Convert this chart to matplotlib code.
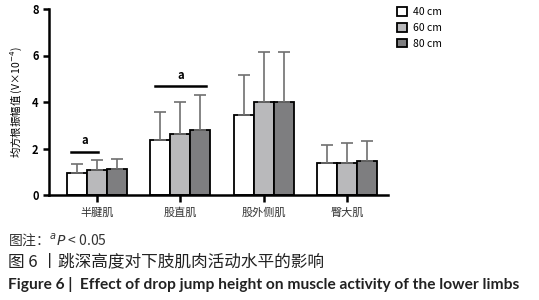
import numpy as np
import matplotlib
matplotlib.use('Agg')
import matplotlib.pyplot as plt

plt.rcParams['font.family'] = ['Noto Sans CJK SC', 'DejaVu Sans']

# Dati
muscoli = ['半腱肌', '股直肌', '股外侧肌', '臀大肌']
altezze = ['40 cm', '60 cm', '80 cm']
media_40 = [0.93, 2.37, 3.45, 1.37]
media_60 = [1.08, 2.63, 4.00, 1.39]
media_80 = [1.10, 2.80, 4.00, 1.47]
err_40 = [0.39, 1.19, 1.72, 0.80]
err_60 = [0.42, 1.37, 2.16, 0.86]
err_80 = [0.43, 1.52, 2.15, 0.84]
colori = ['white', '#b9b9bb', '#7e7e80']

fig = plt.figure(figsize=(5.39, 3.00), dpi=100)
ax = fig.add_axes([0.091, 0.35, 0.629, 0.62])

x = np.arange(len(muscoli))
w = 0.24
medie = [media_40, media_60, media_80]
errori = [err_40, err_60, err_80]
for i in range(3):
    ax.bar(x + (i - 1) * w, medie[i], w, yerr=[np.zeros(4), errori[i]],
           color=colori[i], edgecolor='black', linewidth=1.3, label=altezze[i],
           error_kw=dict(ecolor='#707070', elinewidth=1.2, capsize=4, capthick=1.2),
           zorder=2)

# linee di significatività
ax.plot([-0.31, 0.01], [1.87, 1.87], color='black', lw=1.8)
ax.text(-0.15, 2.05, 'a', ha='center', va='bottom', fontsize=8, fontweight='bold')
ax.plot([1 - 0.31, 1 + 0.31], [4.67, 4.67], color='black', lw=1.8)
ax.text(1, 4.85, 'a', ha='center', va='bottom', fontsize=8, fontweight='bold')

ax.set_xlim(-0.575, 3.49)
ax.set_ylim(0, 8)
ax.set_yticks([0, 2, 4, 6, 8])
ax.set_xticks(x)
ax.set_xticklabels(muscoli, fontsize=8, color='#333333')
ax.tick_params(axis='y', labelsize=8, width=1.8, length=4)
ax.tick_params(axis='x', width=1.8, length=5, pad=4)
for lab in ax.get_yticklabels():
    lab.set_fontweight('bold')
ax.spines['top'].set_visible(False)
ax.spines['right'].set_visible(False)
ax.spines['left'].set_linewidth(1.8)
ax.spines['bottom'].set_linewidth(1.8)
ax.set_ylabel('均方根振幅值 (V×10$^{-4}$)', fontsize=7.5, labelpad=6)

ax.legend(loc='upper left', bbox_to_anchor=(1.0, 1.06), frameon=False,
          fontsize=7.5, handlelength=0.9, handleheight=0.9, labelspacing=0.55,
          handletextpad=0.6)

fig.text(0.015, 0.20, '图注：$^{a}$$\\it{P}$ < 0.05', fontsize=10, color='#333333', va='center')
fig.text(0.015, 0.127, '图 6 丨跳深高度对下肢肌肉活动水平的影响', fontsize=12,
         fontweight='medium', color='#222222', va='center')
fig.text(0.015, 0.05, 'Figure 6 |  Effect of drop jump height on muscle activity of the lower limbs',
         fontsize=11.2, fontweight='bold', family=['Lato', 'DejaVu Sans'], color='#222222', va='center')

fig.savefig('out.png', dpi=100)
